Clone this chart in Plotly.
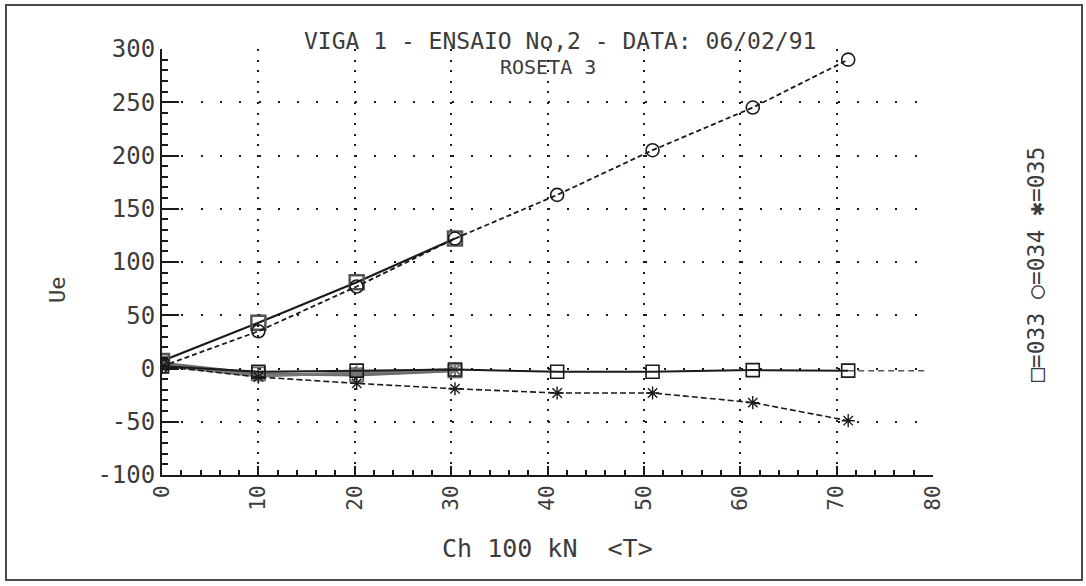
import plotly.graph_objects as go

# Load steps (Ch 100 kN) at which the rosette gauges were read
load = [0, 10.0, 20.2, 30.4, 41.0, 50.9, 61.3, 71.2]
load_first = [0, 10.0, 20.2, 30.4]

# Strain readings (micro-strain), first loading cycle up to ~30
g034_first = [7, 43, 81, 122]
g033_first = [5, -5, -6, -2]
g035_first = [3, -7, -4, -1]

# Second loading cycle up to ~71
g034 = [2, 35, 77, 122, 163, 205, 245, 290]
g033 = [2, -3, -2, -1, -3, -3, -1.5, -2]
g035 = [2, -8, -14, -19, -23, -23, -32, -49]

# Last reading of gauge 033 at the end of the record
g033_tail_x = [71.2, 79.2]
g033_tail_y = [-2, -2]

x_ticks = [0, 10, 20, 30, 40, 50, 60, 70, 80]
y_ticks = [-100, -50, 0, 50, 100, 150, 200, 250, 300]

MONO = "DejaVu Sans Mono, Liberation Mono, monospace"
INK = "#1a1a1a"
TXT = "#3c3c3c"

fig = go.Figure()

# first cycle: low gauges overlapping as a thick grey band
fig.add_trace(go.Scatter(x=load_first, y=g033_first, mode="lines+markers",
                         line=dict(color="#6a6a6a", width=3),
                         marker=dict(symbol="square-open", size=13, color="#6a6a6a",
                                     line=dict(width=2))))
fig.add_trace(go.Scatter(x=load_first, y=g035_first, mode="lines+markers",
                         line=dict(color="#777777", width=3),
                         marker=dict(symbol="asterisk-open", size=12, color="#777777",
                                     line=dict(width=2))))
fig.add_trace(go.Scatter(x=load_first, y=g034_first, mode="lines+markers",
                         line=dict(color=INK, width=2.2),
                         marker=dict(symbol="square-open", size=14, color="#555555",
                                     line=dict(width=2.5))))

# second cycle
fig.add_trace(go.Scatter(x=load, y=g033, mode="lines+markers",
                         line=dict(color=INK, width=2),
                         marker=dict(symbol="square-open", size=13, color=INK,
                                     line=dict(width=1.6))))
fig.add_trace(go.Scatter(x=g033_tail_x, y=g033_tail_y, mode="lines",
                         line=dict(color="#555555", width=1.5, dash="6px,4px")))
fig.add_trace(go.Scatter(x=load, y=g035, mode="lines+markers",
                         line=dict(color=INK, width=1.6, dash="6px,3px"),
                         marker=dict(symbol="asterisk-open", size=11, color=INK,
                                     line=dict(width=1.4))))
fig.add_trace(go.Scatter(x=load, y=g034, mode="lines+markers",
                         line=dict(color=INK, width=1.8, dash="5px,3px"),
                         marker=dict(symbol="circle-open", size=13, color=INK,
                                     line=dict(width=1.6))))

# pixel -> paper helpers for the fixed 1086x586 canvas
L, R, T, B = 162, 933, 49, 475
def px(x):
    return (x - L) / (R - L)
def py(y):
    return (B - y) / (B - T)

fig.update_layout(
    width=1086, height=586,
    margin=dict(l=L, r=1086 - R, t=T, b=586 - B),
    paper_bgcolor="white", plot_bgcolor="white",
    showlegend=False,
    font=dict(family=MONO, color=TXT, size=22),
    xaxis=dict(range=[0, 80], tickvals=x_ticks, ticktext=[str(v) for v in x_ticks],
               tickangle=-90, ticks="inside", ticklen=9, tickwidth=2, tickcolor=INK,
               showline=True, linecolor=INK, linewidth=2, zeroline=False,
               showgrid=True, gridcolor=INK, gridwidth=2, griddash="2px,8.6px",
               minor=dict(dtick=2, ticks="inside", ticklen=5, tickwidth=1.5,
                          tickcolor=INK, showgrid=False),
               tickfont=dict(family=MONO, size=21, color=TXT)),
    yaxis=dict(range=[-100, 300], tickvals=y_ticks, ticktext=[str(v) for v in y_ticks],
               ticks="inside", ticklen=17, tickwidth=2, tickcolor=INK,
               showline=True, linecolor=INK, linewidth=2, zeroline=False,
               showgrid=True, gridcolor=INK, gridwidth=2, griddash="2px,17.3px",
               minor=dict(dtick=10, ticks="inside", ticklen=6, tickwidth=1.5,
                          tickcolor=INK, showgrid=False),
               tickfont=dict(family=MONO, size=24, color=TXT)),
)

def label(text, x, y, size, angle=0):
    fig.add_annotation(x=px(x), y=py(y), xref="paper", yref="paper",
                       xanchor="center", yanchor="middle",
                       text=text, textangle=angle, showarrow=False,
                       font=dict(family=MONO, size=size, color=TXT))

label("VIGA 1 - ENSAIO No,2 - DATA: 06/02/91", 560, 41, 23)
label("ROSETA 3", 548, 67, 20)
label("Ue", 57, 290, 22, -90)
label("Ch 100 kN  &lt;T&gt;", 547, 548, 25)
label("□=033 ○=034 ✱=035", 1036, 265, 23, -90)

# outer frame of the sheet
fig.add_shape(type="rect", xref="paper", yref="paper",
              x0=px(6), x1=px(1082), y0=py(580), y1=py(5),
              line=dict(color="#4a4a4a", width=2))

fig.write_html("out.html")
